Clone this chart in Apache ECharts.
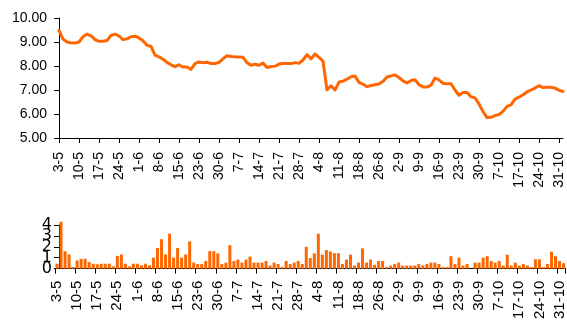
<!DOCTYPE html>
<html>
<head>
<meta charset="utf-8">
<script src="https://cdn.jsdelivr.net/npm/echarts@6/dist/echarts.min.js"></script>
<style>
  html, body { margin: 0; padding: 0; background: #fff; }
  #chart { width: 567px; height: 322px; }
</style>
</head>
<body>
<div id="chart"></div>
<script>
// Trading days, 3 May to 1 Nov
const dates = [
  '3-5','4-5','5-5','6-5','7-5',
  '10-5','11-5','12-5','13-5','14-5',
  '17-5','18-5','19-5','20-5','21-5',
  '24-5','25-5','26-5','27-5','28-5',
  '1-6','2-6','3-6','4-6','7-6',
  '8-6','9-6','10-6','11-6','14-6',
  '15-6','16-6','17-6','18-6','21-6',
  '23-6','24-6','25-6','28-6','29-6',
  '30-6','1-7','2-7','5-7','6-7',
  '7-7','8-7','9-7','12-7','13-7',
  '14-7','15-7','16-7','19-7','20-7',
  '21-7','22-7','23-7','26-7','27-7',
  '28-7','29-7','30-7','2-8','3-8',
  '4-8','5-8','6-8','9-8','10-8',
  '11-8','12-8','13-8','16-8','17-8',
  '18-8','19-8','20-8','23-8','24-8',
  '26-8','27-8','30-8','31-8','1-9',
  '2-9','3-9','6-9','7-9','8-9',
  '9-9','10-9','13-9','14-9','15-9',
  '16-9','17-9','20-9','21-9','22-9',
  '23-9','24-9','27-9','28-9','29-9',
  '30-9','1-10','4-10','5-10','6-10',
  '7-10','8-10','11-10','14-10','15-10',
  '17-10','18-10','19-10','20-10','21-10',
  '24-10','25-10','26-10','27-10','28-10',
  '31-10','1-11'
];

// Closing price
const price = [
  9.48, 9.12, 9.00, 8.97, 8.96, 9.00, 9.22, 9.33, 9.26, 9.10,
  9.03, 9.03, 9.06, 9.27, 9.33, 9.25, 9.10, 9.13, 9.22, 9.24,
  9.17, 9.05, 8.86, 8.82, 8.45, 8.38, 8.28, 8.15, 8.05, 7.97,
  8.05, 7.96, 7.96, 7.86, 8.10, 8.17, 8.14, 8.16, 8.10, 8.10,
  8.15, 8.30, 8.43, 8.40, 8.38, 8.38, 8.36, 8.14, 8.03, 8.07,
  8.03, 8.12, 7.94, 7.98, 7.99, 8.08, 8.10, 8.10, 8.10, 8.14,
  8.11, 8.25, 8.47, 8.30, 8.50, 8.36, 8.20, 7.01, 7.17, 7.00,
  7.33, 7.37, 7.45, 7.55, 7.58, 7.32, 7.24, 7.14, 7.19, 7.22,
  7.25, 7.36, 7.54, 7.59, 7.63, 7.52, 7.38, 7.29, 7.40, 7.43,
  7.22, 7.13, 7.12, 7.20, 7.50, 7.42, 7.28, 7.26, 7.26, 7.00,
  6.78, 6.90, 6.90, 6.72, 6.67, 6.42, 6.10, 5.85, 5.86, 5.93,
  5.98, 6.11, 6.32, 6.38, 6.62, 6.70, 6.80, 6.92, 7.00, 7.08,
  7.18, 7.10, 7.11, 7.11, 7.08, 6.99, 6.94
];

// Traded volume
const volume = [
  0.45, 4.30, 1.60, 1.30, 0.15, 0.75, 0.90, 0.90, 0.60, 0.45,
  0.40, 0.45, 0.45, 0.45, 0.20, 1.15, 1.30, 0.45, 0.20, 0.45,
  0.45, 0.30, 0.45, 0.30, 1.00, 1.90, 2.70, 1.30, 3.20, 1.00,
  1.90, 1.00, 1.30, 2.50, 0.55, 0.42, 0.42, 0.70, 1.60, 1.60,
  1.40, 0.42, 0.55, 2.15, 0.70, 0.83, 0.55, 0.83, 1.10, 0.55,
  0.55, 0.55, 0.70, 0.28, 0.55, 0.42, 0.14, 0.70, 0.42, 0.55,
  0.70, 0.42, 2.00, 0.97, 1.40, 3.20, 1.28, 1.70, 1.58, 1.42,
  1.42, 0.42, 0.83, 1.28, 0.28, 0.55, 1.86, 0.55, 0.83, 0.35,
  0.70, 0.70, 0.14, 0.28, 0.42, 0.55, 0.28, 0.28, 0.28, 0.28,
  0.42, 0.28, 0.42, 0.55, 0.55, 0.42, 0.14, 0.14, 1.14, 0.42,
  1.00, 0.28, 0.42, 0.00, 0.55, 0.55, 1.00, 1.14, 0.70, 0.55,
  0.70, 0.28, 1.28, 0.28, 0.55, 0.28, 0.42, 0.28, 0.14, 0.86,
  0.86, 0.14, 0.42, 1.55, 1.14, 0.70, 0.50
];

const FONT = '"Liberation Sans", Arial, sans-serif';
const VOL_FONT = '"DejaVu Sans", sans-serif';
const ORANGE = '#ff6600';

const chart = echarts.init(document.getElementById('chart'), null, { renderer: 'canvas' });

const axisLine = { show: true, lineStyle: { color: '#000', width: 1 } };

// The volume scale packs its labels tightly, so even and odd values go on two
// stacked axes; otherwise the library drops every other label.
function volumeAxis(parity, withLine) {
  return {
    type: 'value', gridIndex: 1, min: 0, max: 4, interval: 1, offset: -4, position: 'left',
    axisLine: { show: withLine, lineStyle: { color: '#000', width: 1 } },
    axisTick: { show: withLine, length: 5, lineStyle: { color: '#000' } },
    axisLabel: {
      margin: 7, color: '#000', fontFamily: VOL_FONT, fontSize: 16,
      showMinLabel: true, showMaxLabel: true,
      formatter: v => (v % 2 === parity ? String(v) : '')
    },
    splitLine: { show: false }
  };
}

chart.setOption({
  animation: false,
  backgroundColor: '#fff',
  grid: [
    { left: 59, top: 18, width: 504, height: 120 },
    { left: 55, top: 225, width: 517, height: 48 }
  ],
  xAxis: [
    {
      type: 'category', gridIndex: 0, data: dates, boundaryGap: false,
      axisLine: axisLine,
      axisTick: { show: true, interval: 4, length: 5, lineStyle: { color: '#000' } },
      axisLabel: { interval: 4, rotate: 90, margin: 14, color: '#000', fontFamily: FONT, fontSize: 14 },
      splitLine: { show: false }
    },
    {
      type: 'category', gridIndex: 1, data: dates, boundaryGap: true,
      axisLine: axisLine,
      axisTick: { show: true, interval: 4, length: 5, lineStyle: { color: '#000' } },
      axisLabel: { interval: 4, rotate: 90, margin: 12, color: '#000', fontFamily: FONT, fontSize: 15 },
      splitLine: { show: false }
    }
  ],
  yAxis: [
    {
      type: 'value', gridIndex: 0, min: 5, max: 10, interval: 1,
      axisLine: axisLine,
      axisTick: { show: true, length: 5, lineStyle: { color: '#000' } },
      axisLabel: { margin: 12, color: '#000', fontFamily: FONT, fontSize: 14,
        showMinLabel: true, showMaxLabel: true,
        formatter: v => v.toFixed(2) },
      splitLine: { show: false }
    },
    volumeAxis(0, true),
    volumeAxis(1, false)
  ],
  series: [
    {
      type: 'line', xAxisIndex: 0, yAxisIndex: 0, data: price,
      symbol: 'none',
      lineStyle: { color: ORANGE, width: 3, join: 'round', cap: 'round' }
    },
    {
      type: 'bar', xAxisIndex: 1, yAxisIndex: 1, data: volume,
      barWidth: 3, clip: false,
      itemStyle: { color: ORANGE }
    }
  ]
});
</script>
</body>
</html>
